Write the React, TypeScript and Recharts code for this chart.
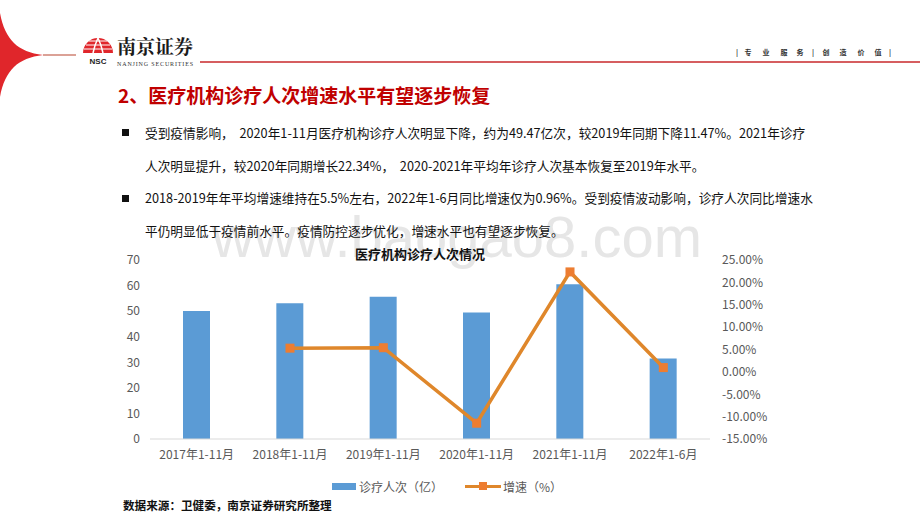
import React from "react";
import { ComposedChart, Bar, Line, XAxis, YAxis, Legend } from "recharts";

const periods = ["2017年1-11月", "2018年1-11月", "2019年1-11月", "2020年1-11月", "2021年1-11月", "2022年1-6月"];
const visits = [50.1, 53.1, 55.6, 49.47, 60.5, 31.5];
const growth: (number | null)[] = [null, 5.3, 5.4, -11.47, 22.34, 0.96];
const leftTicks = [0, 10, 20, 30, 40, 50, 60, 70];
const rightTicks = [-15, -10, -5, 0, 5, 10, 15, 20, 25];

const bulletLines = [
  { bullet: true, text: "受到疫情影响，  2020年1-11月医疗机构诊疗人次明显下降，约为49.47亿次，较2019年同期下降11.47%。2021年诊疗" },
  { bullet: false, text: "人次明显提升，较2020年同期增长22.34%，  2020-2021年平均年诊疗人次基本恢复至2019年水平。" },
  { bullet: true, text: "2018-2019年年平均增速维持在5.5%左右，2022年1-6月同比增速仅为0.96%。受到疫情波动影响，诊疗人次同比增速水" },
  { bullet: false, text: "平仍明显低于疫情前水平。疫情防控逐步优化，增速水平也有望逐步恢复。" },
];

const tagline = [
  ["|", 737], ["专", 748], ["业", 766], ["服", 784], ["务", 800], ["|", 813],
  ["创", 826], ["造", 843], ["价", 861], ["值", 878], ["|", 890],
] as const;

const BLUE = "#5B9BD5";
const ORANGE = "#DF872B";
const MARKER = "#ED7D31";
const FONT = "'Noto Sans CJK SC', 'Noto Sans', sans-serif";

const data = periods.map((p, i) => ({ period: p, visits: visits[i], growth: growth[i] }));

const tickStyle = { fontSize: 12, fill: "#595959", fontFamily: FONT };

function renderLegend() {
  return (
    <div style={{ height: 20, display: "flex", alignItems: "center", justifyContent: "center", fontSize: 12, color: "#595959", paddingLeft: 14, fontFamily: FONT }}>
      <span style={{ display: "inline-block", width: 24, height: 7, background: BLUE, marginRight: 3 }} />
      <span>诊疗人次（亿）</span>
      <span style={{ display: "inline-block", position: "relative", width: 36, height: 3, background: ORANGE, margin: "0 2px 0 22px" }}>
        <span style={{ position: "absolute", left: 14, top: -3, width: 8, height: 8, background: MARKER }} />
      </span>
      <span>增速（%）</span>
    </div>
  );
}

function SquareDot(props: any) {
  const { cx, cy, index, value } = props;
  if (value == null || cx == null || cy == null) return <g key={"d" + index} />;
  return <rect key={"d" + index} x={cx - 4.5} y={cy - 4.5} width={9} height={9} fill={MARKER} />;
}

export default function App() {
  return (
    <div style={{ position: "absolute", left: 0, top: 0, width: 920, height: 518, background: "#fff", overflow: "hidden", fontFamily: FONT }}>
      <svg width={920} height={518} style={{ position: "absolute", left: 0, top: 0 }}>
        <text x={212} y={257} fontSize={58} fill="#E6E6E6" fontFamily="'Liberation Sans', Arial, sans-serif">www.baogao8.com</text>
        {/* header swoosh and logo */}
        <path d="M0,13 C5,40 18,52 43,55 C18,58 5,70 0,97 Z" fill="#E0262B" />
        <line x1={43} y1={55} x2={76} y2={55} stroke="#B8452F" strokeWidth={1.2} />
        <path d="M83,53 A15,15 0 0 1 113,53 Z" fill="#E0262B" />
        <line x1={84} y1={49} x2={112} y2={49} stroke="#fff" strokeWidth={1} />
        <line x1={86} y1={45} x2={110} y2={45} stroke="#fff" strokeWidth={1} />
        <line x1={89} y1={41} x2={107} y2={41} stroke="#fff" strokeWidth={1} />
        <path d="M93,53 Q95,44 98,38 Q101,44 103,53" fill="none" stroke="#fff" strokeWidth={1.5} />
        <text x={98} y={64} fontSize={8} fontWeight="bold" textAnchor="middle" fill="#222" fontFamily="'Liberation Sans', sans-serif">NSC</text>
        <text x={117} y={54} fontSize={19} fontWeight="bold" fill="#1a1a1a" fontFamily="'Noto Serif CJK SC', 'Noto Sans CJK SC', serif">南京证券</text>
        <text x={117} y={66} fontSize={6} fill="#333" fontFamily="'Liberation Serif', serif" textLength={76}>NANJING SECURITIES</text>
        <line x1={200} y1={62} x2={920} y2={62} stroke="#C8282B" strokeWidth={1.5} />
        {tagline.map(([c, x]) => (
          <text key={x} x={x} y={55} fontSize={7} fontWeight="bold" fill="#333" textAnchor="middle">{c}</text>
        ))}
      </svg>

      <div style={{ position: "absolute", left: 118, top: 82, fontSize: 19, lineHeight: "26px", fontWeight: "bold", color: "#C00000", whiteSpace: "nowrap" }}>
        2、医疗机构诊疗人次增速水平有望逐步恢复
      </div>

      {bulletLines.map((l, i) => {
        const top = [122.5, 155.5, 188, 221][i];
        return (
          <div key={i} style={{ position: "absolute", left: 0, top, height: 20, width: 920 }}>
            {l.bullet && <div style={{ position: "absolute", left: 122, top: 6.5, width: 7, height: 7, background: "#111" }} />}
            <div style={{ position: "absolute", left: 145, top: 0, fontSize: 12.7, lineHeight: "20px", color: "#111", whiteSpace: "pre" }}>{l.text}</div>
          </div>
        );
      })}

      <div style={{ position: "absolute", left: 320, width: 200, top: 244, textAlign: "center", fontSize: 13, lineHeight: "20px", fontWeight: "bold", color: "#111" }}>
        医疗机构诊疗人次情况
      </div>

      <div style={{ position: "absolute", left: 100, top: 240 }}>
        <ComposedChart width={680} height={270} data={data} margin={{ top: 20, right: 10, left: 10, bottom: 14 }}>
          <XAxis dataKey="period" interval={0} tickLine={false} axisLine={{ stroke: "#D9D9D9" }} tick={tickStyle} tickMargin={5} height={37} />
          <YAxis yAxisId="l" domain={[0, 70]} ticks={leftTicks} axisLine={false} tickLine={false} tick={tickStyle} tickMargin={4} width={40} />
          <YAxis yAxisId="r" orientation="right" domain={[-15, 25]} ticks={rightTicks} axisLine={false} tickLine={false} tick={tickStyle} tickMargin={6} width={60}
            tickFormatter={(v: number) => v.toFixed(2) + "%"} />
          <Legend verticalAlign="bottom" height={20} content={renderLegend} />
          <Bar yAxisId="l" dataKey="visits" fill={BLUE} barSize={27} isAnimationActive={false} />
          <Line yAxisId="r" dataKey="growth" type="linear" stroke={ORANGE} strokeWidth={3.5} dot={SquareDot} activeDot={false} isAnimationActive={false} />
        </ComposedChart>
      </div>

      <div style={{ position: "absolute", left: 123, top: 495, fontSize: 11.6, lineHeight: "20px", fontWeight: "bold", color: "#111", whiteSpace: "nowrap" }}>
        数据来源：卫健委，南京证券研究所整理
      </div>
    </div>
  );
}
